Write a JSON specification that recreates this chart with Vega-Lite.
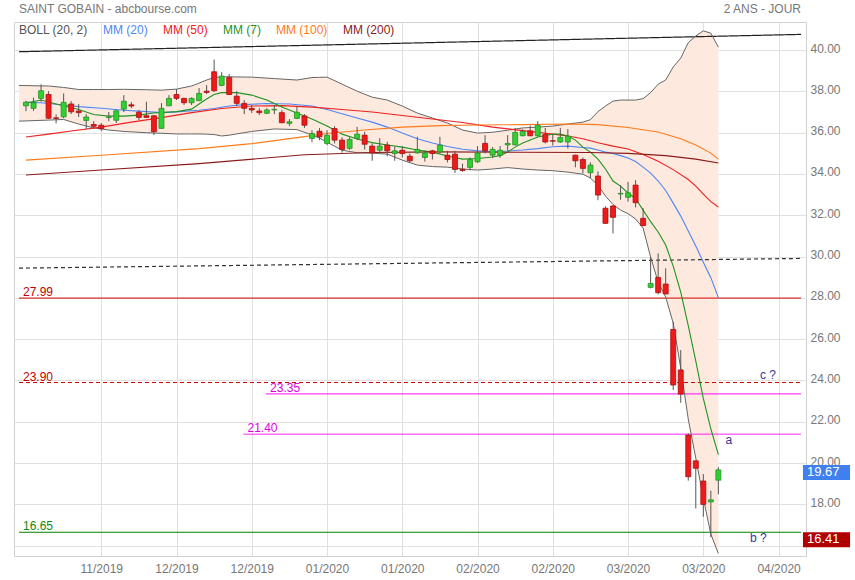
{
  "$schema": "https://vega.github.io/schema/vega-lite/v6.json",
  "width": 792,
  "height": 534,
  "autosize": "none",
  "padding": {"left": 14, "top": 22, "right": 49, "bottom": 24},
  "background": "white",
  "config": {
    "font": "Liberation Sans",
    "view": {"stroke": "#d0d0d0"},
    "axis": {"gridColor": "#e0e0e0", "labelColor": "#777777", "labelFontSize": 12, "ticks": false, "domain": false}
  },
  "datasets": {
    "candles": [
      {"i":0,"o":37.30,"h":37.54,"l":37.04,"c":37.48},
      {"i":1,"o":37.18,"h":37.69,"l":37.05,"c":37.45},
      {"i":2,"o":37.66,"h":38.34,"l":37.50,"c":38.03},
      {"i":3,"o":37.85,"h":38.01,"l":36.66,"c":36.70},
      {"i":4,"o":36.72,"h":36.89,"l":36.45,"c":36.69},
      {"i":5,"o":36.77,"h":37.90,"l":36.70,"c":37.47},
      {"i":6,"o":37.39,"h":37.53,"l":36.90,"c":37.01},
      {"i":7,"o":37.05,"h":37.39,"l":36.76,"c":36.97},
      {"i":8,"o":36.59,"h":36.90,"l":36.18,"c":36.76},
      {"i":9,"o":36.40,"h":36.56,"l":36.18,"c":36.31},
      {"i":10,"o":36.36,"h":36.47,"l":36.08,"c":36.20},
      {"i":11,"o":36.74,"h":37.00,"l":36.56,"c":36.76},
      {"i":12,"o":36.60,"h":37.09,"l":36.47,"c":37.06},
      {"i":13,"o":37.14,"h":37.82,"l":37.00,"c":37.52},
      {"i":14,"o":37.35,"h":37.48,"l":37.19,"c":37.29},
      {"i":15,"o":36.99,"h":37.10,"l":36.61,"c":36.74},
      {"i":16,"o":36.82,"h":37.50,"l":36.71,"c":36.74},
      {"i":17,"o":36.82,"h":36.84,"l":35.89,"c":36.05},
      {"i":18,"o":36.21,"h":37.43,"l":36.18,"c":37.18},
      {"i":19,"o":37.30,"h":37.82,"l":37.29,"c":37.66},
      {"i":20,"o":37.85,"h":38.11,"l":37.58,"c":37.66},
      {"i":21,"o":37.66,"h":37.69,"l":37.34,"c":37.45},
      {"i":22,"o":37.45,"h":37.71,"l":37.34,"c":37.66},
      {"i":23,"o":37.55,"h":38.16,"l":37.53,"c":37.90},
      {"i":24,"o":38.01,"h":38.30,"l":37.87,"c":37.95},
      {"i":25,"o":38.95,"h":39.54,"l":37.97,"c":38.03},
      {"i":26,"o":38.29,"h":38.93,"l":38.25,"c":38.74},
      {"i":27,"o":38.67,"h":38.84,"l":37.82,"c":37.85},
      {"i":28,"o":37.77,"h":38.01,"l":37.29,"c":37.42},
      {"i":29,"o":37.42,"h":37.58,"l":36.90,"c":37.18},
      {"i":30,"o":37.18,"h":37.34,"l":36.95,"c":37.10},
      {"i":31,"o":37.05,"h":37.19,"l":36.85,"c":36.97},
      {"i":32,"o":36.94,"h":37.19,"l":36.90,"c":37.10},
      {"i":33,"o":37.10,"h":37.34,"l":36.90,"c":37.13},
      {"i":34,"o":36.97,"h":37.10,"l":36.47,"c":36.48},
      {"i":35,"o":36.45,"h":36.66,"l":36.32,"c":36.53},
      {"i":36,"o":36.69,"h":37.29,"l":36.66,"c":36.99},
      {"i":37,"o":36.81,"h":36.90,"l":36.23,"c":36.36},
      {"i":38,"o":35.72,"h":36.12,"l":35.54,"c":35.96},
      {"i":39,"o":36.07,"h":36.22,"l":35.64,"c":35.80},
      {"i":40,"o":35.48,"h":36.12,"l":35.40,"c":35.88},
      {"i":41,"o":36.20,"h":36.31,"l":35.48,"c":35.64},
      {"i":42,"o":35.64,"h":35.78,"l":35.03,"c":35.19},
      {"i":43,"o":35.24,"h":35.78,"l":35.17,"c":35.67},
      {"i":44,"o":35.72,"h":36.28,"l":35.64,"c":35.93},
      {"i":45,"o":35.88,"h":36.04,"l":35.18,"c":35.44},
      {"i":46,"o":35.35,"h":35.48,"l":34.64,"c":35.02},
      {"i":47,"o":35.15,"h":35.73,"l":35.06,"c":35.35},
      {"i":48,"o":35.40,"h":35.56,"l":34.86,"c":35.12},
      {"i":49,"o":34.99,"h":35.31,"l":34.64,"c":35.12},
      {"i":50,"o":35.15,"h":35.35,"l":34.80,"c":34.99},
      {"i":51,"o":34.86,"h":34.99,"l":34.56,"c":34.64},
      {"i":52,"o":35.02,"h":35.80,"l":34.99,"c":35.19},
      {"i":53,"o":34.80,"h":35.13,"l":34.60,"c":35.02},
      {"i":54,"o":35.12,"h":35.17,"l":34.70,"c":34.99},
      {"i":55,"o":35.07,"h":35.80,"l":34.99,"c":35.40},
      {"i":56,"o":34.91,"h":35.12,"l":34.56,"c":34.70},
      {"i":57,"o":34.96,"h":35.12,"l":34.05,"c":34.22},
      {"i":58,"o":34.23,"h":34.50,"l":34.11,"c":34.17},
      {"i":59,"o":34.32,"h":34.80,"l":34.17,"c":34.70},
      {"i":60,"o":34.59,"h":35.35,"l":34.53,"c":35.02},
      {"i":61,"o":35.48,"h":35.88,"l":34.99,"c":35.12},
      {"i":62,"o":34.91,"h":35.31,"l":34.78,"c":35.19},
      {"i":63,"o":34.91,"h":35.35,"l":34.78,"c":35.15},
      {"i":64,"o":35.41,"h":35.88,"l":35.12,"c":35.48},
      {"i":65,"o":35.41,"h":36.23,"l":35.38,"c":36.01},
      {"i":66,"o":35.85,"h":36.17,"l":35.83,"c":36.06},
      {"i":67,"o":36.09,"h":36.35,"l":35.83,"c":35.85},
      {"i":68,"o":35.85,"h":36.56,"l":35.81,"c":36.36},
      {"i":69,"o":35.91,"h":36.23,"l":35.48,"c":35.55},
      {"i":70,"o":35.61,"h":35.93,"l":35.38,"c":35.59},
      {"i":71,"o":35.55,"h":36.23,"l":35.51,"c":35.77},
      {"i":72,"o":35.55,"h":36.17,"l":35.23,"c":35.83},
      {"i":73,"o":34.91,"h":34.93,"l":34.32,"c":34.64},
      {"i":74,"o":34.70,"h":34.80,"l":34.03,"c":34.27},
      {"i":75,"o":34.06,"h":34.56,"l":33.80,"c":34.43},
      {"i":76,"o":33.90,"h":34.13,"l":32.73,"c":32.98},
      {"i":77,"o":32.34,"h":32.43,"l":31.58,"c":31.61},
      {"i":78,"o":32.45,"h":32.50,"l":31.12,"c":31.90},
      {"i":79,"o":33.03,"h":33.46,"l":32.75,"c":33.06},
      {"i":80,"o":32.87,"h":33.62,"l":32.66,"c":33.09},
      {"i":81,"o":33.46,"h":33.70,"l":32.38,"c":32.61},
      {"i":82,"o":31.85,"h":32.34,"l":31.50,"c":31.50},
      {"i":83,"o":28.51,"h":29.97,"l":28.46,"c":28.70},
      {"i":84,"o":28.99,"h":30.15,"l":28.17,"c":28.25},
      {"i":85,"o":28.67,"h":29.43,"l":28.19,"c":28.19},
      {"i":86,"o":26.47,"h":26.84,"l":23.54,"c":23.78},
      {"i":87,"o":24.51,"h":25.47,"l":22.92,"c":23.34},
      {"i":88,"o":21.36,"h":21.44,"l":19.15,"c":19.34},
      {"i":89,"o":20.11,"h":20.11,"l":17.80,"c":19.75},
      {"i":90,"o":19.13,"h":19.47,"l":17.40,"c":18.00},
      {"i":91,"o":18.12,"h":18.66,"l":16.41,"c":18.22},
      {"i":92,"o":19.17,"h":19.80,"l":18.49,"c":19.67}
    ],
    "boll": [
      {"i":-0.93,"up":38.29,"lo":36.56},{"i":0,"up":38.28,"lo":36.57},{"i":3,"up":38.26,"lo":36.61},
      {"i":5,"up":38.19,"lo":36.64},{"i":7,"up":38.09,"lo":36.42},{"i":9,"up":38.09,"lo":36.23},
      {"i":11,"up":38.09,"lo":36.13},{"i":13,"up":38.10,"lo":36.06},{"i":16,"up":38.08,"lo":36.00},
      {"i":18,"up":38.06,"lo":35.97},{"i":20,"up":38.11,"lo":35.94},{"i":22,"up":38.26,"lo":35.94},
      {"i":23,"up":38.40,"lo":35.94},{"i":24,"up":38.55,"lo":35.93},{"i":25,"up":38.67,"lo":35.91},
      {"i":26,"up":38.70,"lo":35.84},{"i":27,"up":38.71,"lo":35.88},{"i":28,"up":38.70,"lo":35.94},
      {"i":30,"up":38.69,"lo":36.06},{"i":33,"up":38.62,"lo":36.18},{"i":36,"up":38.55,"lo":36.15},
      {"i":38,"up":38.67,"lo":35.89},{"i":39,"up":38.68,"lo":35.74},{"i":40,"up":38.69,"lo":35.54},
      {"i":42,"up":38.35,"lo":35.15},{"i":44,"up":38.01,"lo":35.03},{"i":46,"up":37.72,"lo":35.01},
      {"i":48,"up":37.58,"lo":34.96},{"i":50,"up":37.29,"lo":34.67},{"i":52,"up":36.95,"lo":34.43},
      {"i":54,"up":36.71,"lo":34.36},{"i":56,"up":36.47,"lo":34.33},{"i":58,"up":36.13,"lo":34.24},
      {"i":60,"up":35.98,"lo":34.19},{"i":62,"up":36.02,"lo":34.24},{"i":64,"up":36.12,"lo":34.31},
      {"i":66,"up":36.23,"lo":34.24},{"i":68,"up":36.27,"lo":34.19},{"i":70,"up":36.32,"lo":34.16},
      {"i":72,"up":36.42,"lo":34.09},{"i":74,"up":36.51,"lo":33.99},{"i":75,"up":36.63,"lo":33.80},
      {"i":76,"up":37.02,"lo":33.46},{"i":77,"up":37.29,"lo":32.93},{"i":78,"up":37.53,"lo":32.52},
      {"i":79,"up":37.58,"lo":32.25},{"i":80,"up":37.58,"lo":32.08},{"i":81,"up":37.58,"lo":31.82},
      {"i":82,"up":37.65,"lo":31.38},{"i":83,"up":37.94,"lo":29.97},{"i":84,"up":38.35,"lo":28.76},
      {"i":85,"up":38.55,"lo":28.04},{"i":86,"up":39.18,"lo":26.78},{"i":87,"up":39.61,"lo":24.60},
      {"i":88,"up":40.36,"lo":22.13},{"i":89,"up":40.68,"lo":20.24},{"i":90,"up":40.93,"lo":18.30},
      {"i":91,"up":40.82,"lo":16.56},{"i":92,"up":40.14,"lo":15.62}
    ],
    "ma": [
      {"s":"MM (20)","i":0,"v":37.47},{"s":"MM (20)","i":2,"v":37.45},{"s":"MM (20)","i":5,"v":37.34},{"s":"MM (20)","i":7,"v":37.26},
      {"s":"MM (20)","i":10,"v":37.18},{"s":"MM (20)","i":13,"v":37.09},{"s":"MM (20)","i":16,"v":37.02},{"s":"MM (20)","i":18,"v":36.97},
      {"s":"MM (20)","i":20,"v":37.01},{"s":"MM (20)","i":23,"v":37.09},{"s":"MM (20)","i":25,"v":37.17},{"s":"MM (20)","i":27,"v":37.29},
      {"s":"MM (20)","i":29,"v":37.36},{"s":"MM (20)","i":32,"v":37.41},{"s":"MM (20)","i":35,"v":37.39},{"s":"MM (20)","i":38,"v":37.29},
      {"s":"MM (20)","i":40,"v":37.12},{"s":"MM (20)","i":42,"v":36.92},{"s":"MM (20)","i":44,"v":36.71},{"s":"MM (20)","i":46,"v":36.51},
      {"s":"MM (20)","i":48,"v":36.27},{"s":"MM (20)","i":50,"v":35.98},{"s":"MM (20)","i":52,"v":35.71},{"s":"MM (20)","i":54,"v":35.50},
      {"s":"MM (20)","i":56,"v":35.33},{"s":"MM (20)","i":58,"v":35.20},{"s":"MM (20)","i":60,"v":35.12},{"s":"MM (20)","i":62,"v":35.08},
      {"s":"MM (20)","i":64,"v":35.11},{"s":"MM (20)","i":66,"v":35.16},{"s":"MM (20)","i":68,"v":35.23},{"s":"MM (20)","i":70,"v":35.32},
      {"s":"MM (20)","i":72,"v":35.35},{"s":"MM (20)","i":74,"v":35.28},{"s":"MM (20)","i":75,"v":35.25},{"s":"MM (20)","i":76,"v":35.16},
      {"s":"MM (20)","i":77,"v":35.06},{"s":"MM (20)","i":78,"v":34.99},{"s":"MM (20)","i":79,"v":34.89},{"s":"MM (20)","i":80,"v":34.77},
      {"s":"MM (20)","i":81,"v":34.60},{"s":"MM (20)","i":82,"v":34.33},{"s":"MM (20)","i":83,"v":34.04},{"s":"MM (20)","i":84,"v":33.66},
      {"s":"MM (20)","i":85,"v":33.20},{"s":"MM (20)","i":86,"v":32.59},{"s":"MM (20)","i":87,"v":31.96},{"s":"MM (20)","i":88,"v":31.24},
      {"s":"MM (20)","i":89,"v":30.51},{"s":"MM (20)","i":90,"v":29.73},{"s":"MM (20)","i":91,"v":28.98},{"s":"MM (20)","i":92,"v":28.01},

      {"s":"MM (50)","i":0,"v":35.79},{"s":"MM (50)","i":3,"v":35.93},{"s":"MM (50)","i":6,"v":36.08},{"s":"MM (50)","i":10,"v":36.27},
      {"s":"MM (50)","i":14,"v":36.51},{"s":"MM (50)","i":18,"v":36.73},{"s":"MM (50)","i":22,"v":36.97},{"s":"MM (50)","i":26,"v":37.17},
      {"s":"MM (50)","i":30,"v":37.29},{"s":"MM (50)","i":34,"v":37.31},{"s":"MM (50)","i":38,"v":37.24},{"s":"MM (50)","i":42,"v":37.12},
      {"s":"MM (50)","i":46,"v":37.00},{"s":"MM (50)","i":50,"v":36.83},{"s":"MM (50)","i":54,"v":36.66},{"s":"MM (50)","i":58,"v":36.49},
      {"s":"MM (50)","i":62,"v":36.27},{"s":"MM (50)","i":66,"v":36.10},{"s":"MM (50)","i":70,"v":35.93},{"s":"MM (50)","i":72,"v":35.84},
      {"s":"MM (50)","i":74,"v":35.71},{"s":"MM (50)","i":76,"v":35.51},{"s":"MM (50)","i":78,"v":35.35},{"s":"MM (50)","i":80,"v":35.21},
      {"s":"MM (50)","i":82,"v":34.94},{"s":"MM (50)","i":84,"v":34.62},{"s":"MM (50)","i":86,"v":34.21},{"s":"MM (50)","i":88,"v":33.73},
      {"s":"MM (50)","i":89,"v":33.41},{"s":"MM (50)","i":90,"v":33.03},{"s":"MM (50)","i":91,"v":32.66},{"s":"MM (50)","i":92,"v":32.40},

      {"s":"MM (7)","i":0,"v":37.43},{"s":"MM (7)","i":2,"v":37.58},{"s":"MM (7)","i":4,"v":37.39},{"s":"MM (7)","i":7,"v":37.12},
      {"s":"MM (7)","i":9,"v":36.88},{"s":"MM (7)","i":11,"v":36.80},{"s":"MM (7)","i":13,"v":36.80},{"s":"MM (7)","i":15,"v":36.85},
      {"s":"MM (7)","i":17,"v":36.95},{"s":"MM (7)","i":20,"v":37.02},{"s":"MM (7)","i":22,"v":37.14},{"s":"MM (7)","i":23,"v":37.39},
      {"s":"MM (7)","i":24,"v":37.63},{"s":"MM (7)","i":25,"v":37.85},{"s":"MM (7)","i":26,"v":37.94},{"s":"MM (7)","i":28,"v":37.94},
      {"s":"MM (7)","i":30,"v":37.82},{"s":"MM (7)","i":32,"v":37.58},{"s":"MM (7)","i":34,"v":37.24},{"s":"MM (7)","i":36,"v":36.95},
      {"s":"MM (7)","i":38,"v":36.66},{"s":"MM (7)","i":40,"v":36.32},{"s":"MM (7)","i":42,"v":35.93},{"s":"MM (7)","i":44,"v":35.69},
      {"s":"MM (7)","i":46,"v":35.52},{"s":"MM (7)","i":48,"v":35.40},{"s":"MM (7)","i":50,"v":35.30},{"s":"MM (7)","i":52,"v":35.16},
      {"s":"MM (7)","i":54,"v":35.06},{"s":"MM (7)","i":56,"v":34.87},{"s":"MM (7)","i":58,"v":34.72},{"s":"MM (7)","i":60,"v":34.75},
      {"s":"MM (7)","i":62,"v":34.82},{"s":"MM (7)","i":63,"v":34.89},{"s":"MM (7)","i":64,"v":35.06},{"s":"MM (7)","i":65,"v":35.30},
      {"s":"MM (7)","i":66,"v":35.50},{"s":"MM (7)","i":68,"v":35.79},{"s":"MM (7)","i":70,"v":35.93},{"s":"MM (7)","i":71,"v":35.93},
      {"s":"MM (7)","i":72,"v":35.84},{"s":"MM (7)","i":73,"v":35.64},{"s":"MM (7)","i":74,"v":35.30},{"s":"MM (7)","i":75,"v":35.06},
      {"s":"MM (7)","i":76,"v":34.72},{"s":"MM (7)","i":77,"v":34.24},{"s":"MM (7)","i":78,"v":33.66},{"s":"MM (7)","i":79,"v":33.41},
      {"s":"MM (7)","i":80,"v":33.08},{"s":"MM (7)","i":81,"v":32.81},{"s":"MM (7)","i":82,"v":32.25},{"s":"MM (7)","i":83,"v":31.69},
      {"s":"MM (7)","i":84,"v":31.19},{"s":"MM (7)","i":85,"v":30.56},{"s":"MM (7)","i":86,"v":29.54},{"s":"MM (7)","i":87,"v":28.28},
      {"s":"MM (7)","i":88,"v":26.66},{"s":"MM (7)","i":89,"v":24.94},{"s":"MM (7)","i":90,"v":23.13},{"s":"MM (7)","i":91,"v":21.66},
      {"s":"MM (7)","i":92,"v":20.41},

      {"s":"MM (100)","i":0,"v":34.67},{"s":"MM (100)","i":10,"v":34.91},{"s":"MM (100)","i":23,"v":35.23},{"s":"MM (100)","i":30,"v":35.47},
      {"s":"MM (100)","i":36,"v":35.76},{"s":"MM (100)","i":40,"v":35.96},{"s":"MM (100)","i":45,"v":36.13},{"s":"MM (100)","i":50,"v":36.27},
      {"s":"MM (100)","i":55,"v":36.34},{"s":"MM (100)","i":60,"v":36.37},{"s":"MM (100)","i":66,"v":36.39},{"s":"MM (100)","i":72,"v":36.42},
      {"s":"MM (100)","i":76,"v":36.39},{"s":"MM (100)","i":80,"v":36.25},{"s":"MM (100)","i":84,"v":36.03},{"s":"MM (100)","i":87,"v":35.71},
      {"s":"MM (100)","i":89,"v":35.40},{"s":"MM (100)","i":91,"v":35.01},{"s":"MM (100)","i":92,"v":34.72},

      {"s":"MM (200)","i":0,"v":33.95},{"s":"MM (200)","i":10,"v":34.19},{"s":"MM (200)","i":23,"v":34.50},{"s":"MM (200)","i":37,"v":34.93},
      {"s":"MM (200)","i":46,"v":35.04},{"s":"MM (200)","i":55,"v":35.07},{"s":"MM (200)","i":65,"v":35.05},{"s":"MM (200)","i":75,"v":35.04},
      {"s":"MM (200)","i":80,"v":35.00},{"s":"MM (200)","i":85,"v":34.89},{"s":"MM (200)","i":89,"v":34.72},{"s":"MM (200)","i":92,"v":34.53}
    ],
    "levels": [
      {"kind":"res","v":27.99,"i":-0.93,"i2":102.98},
      {"kind":"res2","v":23.90,"i":-0.93,"i2":102.98},
      {"kind":"tgt","v":23.35,"i":31.9,"i2":102.98},
      {"kind":"tgt","v":21.40,"i":28.9,"i2":102.98},
      {"kind":"sup","v":16.65,"i":-0.93,"i2":102.98}
    ],
    "trends": [
      {"kind":"canal","i":-0.93,"v":39.92},{"kind":"canal","i":102.98,"v":40.76},
      {"kind":"mid","i":-0.93,"v":29.44},{"kind":"mid","i":102.98,"v":29.91}
    ],
    "notes": [
      {"lab":"a","i":93.4,"v":21.11},
      {"lab":"c ?","i":98.6,"v":24.26},
      {"lab":"b ?","i":97.3,"v":16.37}
    ],
    "tags": [
      {"kind":"last","v":19.67},
      {"kind":"low","v":16.41}
    ],
    "header": [
      {"side":"left","t":"SAINT GOBAIN - abcbourse.com"},
      {"side":"right","t":"2 ANS - JOUR"}
    ]
  },
  "layer": [
    {
      "encoding": {
        "x": {
          "field": "i", "type": "quantitative",
          "scale": {"domain": [-0.93, 102.98], "nice": false, "zero": false},
          "axis": {
            "values": [10, 20, 30, 40, 50, 60, 70, 80, 90, 100],
            "labelExpr": "['', '11/2019', '12/2019', '12/2019', '01/2020', '01/2020', '02/2020', '02/2020', '03/2020', '03/2020', '04/2020'][round(datum.value / 10)]",
            "labelPadding": 7, "title": null, "grid": true
          }
        }
      },
      "layer": [
        {
          "data": {"name": "boll"},
          "mark": {"type": "area", "color": "#fde9dd", "opacity": 1},
          "encoding": {
            "y": {
              "field": "lo", "type": "quantitative",
              "scale": {"domain": [15.5, 41.36], "nice": false, "zero": false},
              "axis": {
                "orient": "right",
                "values": [16, 18, 20, 22, 24, 26, 28, 30, 32, 34, 36, 38, 40],
                "labelExpr": "datum.value < 17 ? '' : format(datum.value, '.2f')",
                "labelPadding": 4, "labelOffset": -2, "grid": true, "title": null
              }
            },
            "y2": {"field": "up"}
          }
        },
        {
          "data": {"name": "levels"},
          "mark": {"type": "rule", "strokeWidth": 1},
          "encoding": {
            "x2": {"field": "i2"},
            "y": {"field": "v", "type": "quantitative", "title": null, "scale": {"domain": [15.5, 41.36], "nice": false, "zero": false}},
            "stroke": {"field": "kind", "type": "nominal", "legend": null,
              "scale": {"domain": ["res", "res2", "tgt", "sup", "canal", "mid"], "range": ["#cc0000", "#cc0000", "#ff00ff", "#008000", "#222222", "#333333"]}},
            "strokeDash": {"field": "kind", "type": "nominal", "legend": null,
              "scale": {"domain": ["res", "res2", "tgt", "sup", "canal", "mid"], "range": [[1, 0], [4, 3], [1, 0], [1, 0], [1, 0], [4, 3]]}}
          }
        },
        {
          "data": {"name": "trends"},
          "mark": {"type": "line", "strokeWidth": 1.2},
          "encoding": {
            "y": {"field": "v", "type": "quantitative", "title": null, "scale": {"domain": [15.5, 41.36], "nice": false, "zero": false}},
            "detail": {"field": "kind"},
            "stroke": {"field": "kind", "type": "nominal", "legend": null,
              "scale": {"domain": ["res", "res2", "tgt", "sup", "canal", "mid"], "range": ["#cc0000", "#cc0000", "#ff00ff", "#008000", "#222222", "#333333"]}},
            "strokeDash": {"field": "kind", "type": "nominal", "legend": null,
              "scale": {"domain": ["res", "res2", "tgt", "sup", "canal", "mid"], "range": [[1, 0], [4, 3], [1, 0], [1, 0], [1, 0], [4, 3]]}}
          }
        },
        {
          "data": {"name": "boll"},
          "mark": {"type": "line", "color": "#666666", "strokeWidth": 1},
          "encoding": {
            "y": {"field": "up", "type": "quantitative", "title": null, "scale": {"domain": [15.5, 41.36], "nice": false, "zero": false}}
          }
        },
        {
          "data": {"name": "boll"},
          "mark": {"type": "line", "color": "#666666", "strokeWidth": 1},
          "encoding": {
            "y": {"field": "lo", "type": "quantitative", "title": null, "scale": {"domain": [15.5, 41.36], "nice": false, "zero": false}}
          }
        },
        {
          "data": {"name": "ma"},
          "mark": {"type": "line", "strokeWidth": 1.1},
          "encoding": {
            "y": {"field": "v", "type": "quantitative", "title": null, "scale": {"domain": [15.5, 41.36], "nice": false, "zero": false}},
            "color": {
              "field": "s", "type": "nominal",
              "scale": {
                "domain": ["BOLL (20, 2)", "MM (20)", "MM (50)", "MM (7)", "MM (100)", "MM (200)"],
                "range": ["#555555", "#4f86f5", "#f02020", "#1f931f", "#ff7a1a", "#8b1a1a"]
              },
              "legend": {
                "orient": "none", "legendX": -7, "legendY": 2, "direction": "horizontal", "title": null, "padding": 0,
                "symbolType": "circle", "symbolSize": 0.01, "symbolStrokeWidth": 0, "symbolOpacity": 0, "labelOffset": 0,
                "columnPadding": 3, "labelFontSize": 12, "labelLimit": 300,
                "encode": {"labels": {"update": {"fill": {"signal": "scale('color', datum.value)"}}}}
              }
            }
          }
        },
        {
          "data": {"name": "candles"},
          "mark": {"type": "rule", "color": "#555555", "strokeWidth": 1},
          "encoding": {
            "y": {"field": "l", "type": "quantitative", "title": null, "scale": {"domain": [15.5, 41.36], "nice": false, "zero": false}},
            "y2": {"field": "h"}
          }
        },
        {
          "data": {"name": "candles"},
          "mark": {"type": "bar", "size": 5, "strokeWidth": 0.8, "orient": "vertical"},
          "encoding": {
            "y": {"field": "o", "type": "quantitative", "title": null, "scale": {"domain": [15.5, 41.36], "nice": false, "zero": false}},
            "y2": {"field": "c"},
            "fill": {"condition": {"test": "datum.c >= datum.o", "value": "#2fd02f"}, "value": "#ee1a1a"},
            "stroke": {"condition": {"test": "datum.c >= datum.o", "value": "#2a8f2a"}, "value": "#a81010"}
          }
        },
        {
          "data": {"name": "levels"},
          "mark": {"type": "text", "align": "left", "baseline": "alphabetic", "dx": 4, "dy": -2, "fontSize": 12},
          "encoding": {
            "y": {"field": "v", "type": "quantitative", "title": null, "scale": {"domain": [15.5, 41.36], "nice": false, "zero": false}},
            "text": {"field": "v", "type": "quantitative", "format": ".2f"},
            "fill": {"field": "kind", "type": "nominal", "legend": null,
              "scale": {"domain": ["res", "res2", "tgt", "sup", "last", "low"], "range": ["#c00000", "#c00000", "#e000e0", "#118811", "#4080ee", "#b00000"]}}
          }
        },
        {
          "data": {"name": "notes"},
          "mark": {"type": "text", "align": "center", "baseline": "middle", "fontSize": 12, "color": "#3535a0"},
          "encoding": {
            "y": {"field": "v", "type": "quantitative", "title": null, "scale": {"domain": [15.5, 41.36], "nice": false, "zero": false}},
            "text": {"field": "lab"}
          }
        }
      ]
    },
    {
      "data": {"name": "tags"},
      "mark": {"type": "rect", "yOffset": -5, "y2Offset": 10, "clip": false},
      "encoding": {
        "x": {"datum": 103.24, "type": "quantitative"},
        "x2": {"datum": 109.5},
        "y": {"field": "v", "type": "quantitative", "title": null, "scale": {"domain": [15.5, 41.36], "nice": false, "zero": false}},
        "y2": {"field": "v"},
        "fill": {"field": "kind", "type": "nominal", "legend": null,
          "scale": {"domain": ["res", "res2", "tgt", "sup", "last", "low"], "range": ["#c00000", "#c00000", "#e000e0", "#118811", "#4080ee", "#b00000"]}}
      }
    },
    {
      "data": {"name": "tags"},
      "mark": {"type": "text", "align": "left", "baseline": "middle", "dx": 4, "dy": 2, "fontSize": 13, "color": "white", "clip": false},
      "encoding": {
        "x": {"datum": 103.24, "type": "quantitative"},
        "y": {"field": "v", "type": "quantitative", "title": null, "scale": {"domain": [15.5, 41.36], "nice": false, "zero": false}},
        "text": {"field": "v", "type": "quantitative", "format": ".2f"}
      }
    },
    {
      "data": {"name": "header"},
      "transform": [{"filter": "datum.side == 'left'"}],
      "mark": {"type": "text", "align": "left", "baseline": "alphabetic", "fontSize": 12, "color": "#777777", "clip": false},
      "encoding": {
        "x": {"datum": -0.93, "type": "quantitative"},
        "y": {"datum": 41.79, "type": "quantitative", "scale": {"domain": [15.5, 41.36], "nice": false, "zero": false}},
        "text": {"field": "t"}
      }
    },
    {
      "data": {"name": "header"},
      "transform": [{"filter": "datum.side == 'right'"}],
      "mark": {"type": "text", "align": "right", "baseline": "alphabetic", "fontSize": 12, "color": "#777777", "clip": false},
      "encoding": {
        "x": {"datum": 102.98, "type": "quantitative"},
        "y": {"datum": 41.79, "type": "quantitative", "scale": {"domain": [15.5, 41.36], "nice": false, "zero": false}},
        "text": {"field": "t"}
      }
    }
  ]
}
